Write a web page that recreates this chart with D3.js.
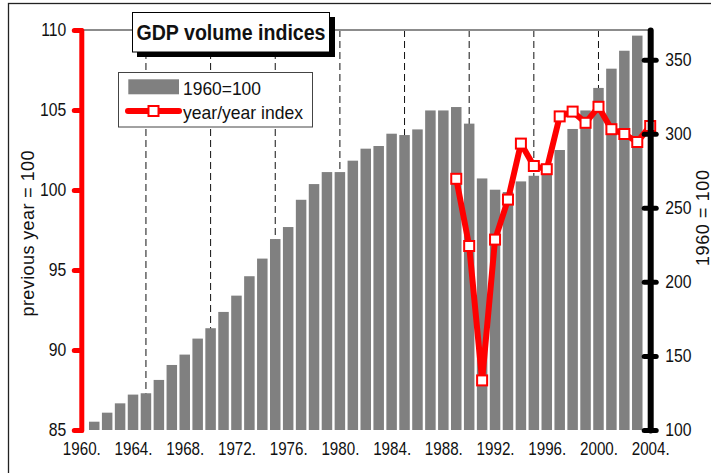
<!DOCTYPE html>
<html>
<head>
<meta charset="utf-8">
<script src="https://cdn.jsdelivr.net/npm/d3@7"></script>
<style>
    body { margin: 0; background: #fff; }
    svg text { font-family: "Liberation Sans", Arial, sans-serif; fill: #111; }
</style>
</head>
<body>
<div id="chart"></div>
<script>
// categories (1960 .. 2004)
var years = [1960, 1961, 1962, 1963, 1964, 1965, 1966, 1967, 1968, 1969,
    1970, 1971, 1972, 1973, 1974, 1975, 1976, 1977, 1978, 1979,
    1980, 1981, 1982, 1983, 1984, 1985, 1986, 1987, 1988, 1989,
    1990, 1991, 1992, 1993, 1994, 1995, 1996, 1997, 1998, 1999,
    2000, 2001, 2002, 2003, 2004];

// GDP volume, 1960 = 100 (bars, 1960 .. 2003)
var gdpIndex = [100, 105.6, 111.7, 118.0, 123.9, 124.8, 133.8, 143.9, 150.9, 161.7,
    168.7, 179.7, 190.7, 203.8, 215.7, 228.9, 237.0, 255.4, 266.0, 274.1,
    274.1, 281.8, 289.9, 291.7, 300.0, 299.1, 302.9, 315.7, 315.7, 318.0,
    306.8, 269.8, 262.2, 260.6, 267.8, 271.6, 275.6, 289.0, 303.2, 315.7,
    330.9, 343.9, 356.0, 366.2];

// year/year index, previous year = 100 (line, 1989 .. 2004)
var yoyYears = [1989, 1990, 1991, 1992, 1993, 1994, 1995, 1996,
    1997, 1998, 1999, 2000, 2001, 2002, 2003, 2004];
var yoyIndex = [100.7, 96.5, 88.1, 96.9, 99.4, 102.9, 101.5, 101.3,
    104.6, 104.9, 104.2, 105.2, 103.8, 103.5, 103.0, 104.0];

// tick labels
var leftTicks = [85, 90, 95, 100, 105, 110];
var rightTicks = [100, 150, 200, 250, 300, 350];
var labelYears = [1960, 1964, 1968, 1972, 1976, 1980, 1984, 1988, 1992, 1996, 2000, 2004];
var gridYears = [1965, 1970, 1975, 1980, 1985, 1990, 1995, 2000];

var W = 711, H = 473;
var plot = {left: 81.3, right: 650.2, top: 30, bottom: 430};

// squeeze text horizontally (no narrow font installed)
function squeeze(sel, ratio) {
    sel.each(function() {
        var w = this.getComputedTextLength();
        d3.select(this)
            .attr("textLength", w * ratio)
            .attr("lengthAdjust", "spacingAndGlyphs");
    });
}

var svg = d3.select("#chart").append("svg")
    .attr("width", W)
    .attr("height", H);

svg.append("rect").attr("width", W).attr("height", H).attr("fill", "#fff");

// outer chart border (runs off the right and bottom edge)
svg.append("rect")
    .attr("x", 8.5).attr("y", 3.5)
    .attr("width", W + 20).attr("height", H + 20)
    .attr("fill", "none")
    .attr("stroke", "#222")
    .attr("stroke-width", 1.3);

var x = d3.scalePoint()
    .domain(years)
    .range([plot.left, plot.right]);

var yLeft = d3.scaleLinear()
    .domain([85, 110])
    .range([plot.bottom, plot.top]);

var yRight = d3.scaleLinear()
    .domain([100, 370])
    .range([plot.bottom, plot.top]);

var barWidth = 10.5;

// dashed vertical gridlines
svg.selectAll("line.grid")
    .data(gridYears)
    .enter()
    .append("line")
    .attr("class", "grid")
    .attr("x1", function(d) { return x(d); })
    .attr("x2", function(d) { return x(d); })
    .attr("y1", plot.top)
    .attr("y2", plot.bottom)
    .attr("stroke", "#111")
    .attr("stroke-width", 1)
    .attr("stroke-dasharray", "7,4");

// top border of the plot area
svg.append("line")
    .attr("x1", plot.left).attr("x2", plot.right)
    .attr("y1", yLeft(110)).attr("y2", yLeft(110))
    .attr("stroke", "#8c8c8c")
    .attr("stroke-width", 1.8);

// bars (right axis)
svg.selectAll("rect.bar")
    .data(gdpIndex)
    .enter()
    .append("rect")
    .attr("class", "bar")
    .attr("x", function(d, i) { return x(years[i]) - barWidth / 2; })
    .attr("y", function(d) { return yRight(d); })
    .attr("width", barWidth)
    .attr("height", function(d) { return plot.bottom - yRight(d); })
    .attr("fill", "#808080");

// year/year line (left axis)
var line = d3.line()
    .x(function(d, i) { return x(yoyYears[i]); })
    .y(function(d) { return yLeft(d); });

svg.append("path")
    .datum(yoyIndex)
    .attr("d", line)
    .attr("fill", "none")
    .attr("stroke", "#ff0000")
    .attr("stroke-width", 6)
    .attr("stroke-linejoin", "round");

var ms = 10;
svg.selectAll("rect.marker")
    .data(yoyIndex)
    .enter()
    .append("rect")
    .attr("class", "marker")
    .attr("x", function(d, i) { return x(yoyYears[i]) - ms / 2; })
    .attr("y", function(d) { return yLeft(d) - ms / 2; })
    .attr("width", ms)
    .attr("height", ms)
    .attr("fill", "#fff")
    .attr("stroke", "#ff0000")
    .attr("stroke-width", 2);

// left axis (red)
var leftAxis = d3.axisLeft(yLeft)
    .tickValues(leftTicks)
    .tickSize(7)
    .tickSizeOuter(0)
    .tickPadding(8);

var gL = svg.append("g")
    .attr("transform", "translate(" + plot.left + ",0)")
    .call(leftAxis);
gL.select(".domain")
    .attr("stroke", "#ff0000")
    .attr("stroke-width", 5)
    .attr("stroke-linecap", "round");
gL.selectAll(".tick line")
    .attr("stroke", "#ff0000")
    .attr("stroke-width", 5)
    .attr("stroke-linecap", "round");
gL.selectAll(".tick text")
    .style("font-size", "18.5px")
    .call(squeeze, 0.85);

// right axis (black)
var rightAxis = d3.axisRight(yRight)
    .tickValues(rightTicks)
    .tickSize(6)
    .tickSizeOuter(0)
    .tickPadding(9);

var gR = svg.append("g")
    .attr("transform", "translate(" + plot.right + ",0)")
    .call(rightAxis);
gR.select(".domain")
    .attr("stroke", "#000")
    .attr("stroke-width", 6)
    .attr("stroke-linecap", "round");
gR.selectAll(".tick line")
    .attr("x1", -6)
    .attr("stroke", "#000")
    .attr("stroke-width", 5)
    .attr("stroke-linecap", "round");
gR.selectAll(".tick text")
    .style("font-size", "18.5px")
    .call(squeeze, 0.85);

// category labels
var xAxis = d3.axisBottom(x)
    .tickValues(labelYears)
    .tickSize(0)
    .tickPadding(12)
    .tickFormat(function(d) { return d + "."; });

var gX = svg.append("g")
    .attr("transform", "translate(0," + plot.bottom + ")")
    .call(xAxis);
gX.select(".domain").remove();
gX.selectAll(".tick text")
    .style("font-size", "18.5px")
    .call(squeeze, 0.82);

// axis titles
svg.append("text")
    .attr("transform", "translate(34,233.5) rotate(-90)")
    .style("text-anchor", "middle")
    .style("font-size", "18px")
    .attr("textLength", 166)
    .attr("lengthAdjust", "spacing")
    .text("previous year = 100");

svg.append("text")
    .attr("transform", "translate(708.5,218) rotate(-90)")
    .style("text-anchor", "middle")
    .style("font-size", "18px")
    .attr("textLength", 96)
    .attr("lengthAdjust", "spacing")
    .text("1960 = 100");

// chart title box with shadow
svg.append("rect")
    .attr("x", 137).attr("y", 17)
    .attr("width", 198).attr("height", 40)
    .attr("fill", "#000");
svg.append("rect")
    .attr("x", 132.5).attr("y", 12.5)
    .attr("width", 197).attr("height", 39.5)
    .attr("fill", "#fff")
    .attr("stroke", "#000")
    .attr("stroke-width", 1);
svg.append("text")
    .attr("x", 231)
    .attr("y", 39.5)
    .style("text-anchor", "middle")
    .style("font-size", "21.5px")
    .style("font-weight", "bold")
    .attr("textLength", 189)
    .attr("lengthAdjust", "spacingAndGlyphs")
    .text("GDP volume indices");

// legend
var legend = svg.append("g");
legend.append("rect")
    .attr("x", 118.5).attr("y", 72.5)
    .attr("width", 194).attr("height", 54.5)
    .attr("fill", "#fff")
    .attr("stroke", "#444")
    .attr("stroke-width", 1);
legend.append("rect")
    .attr("x", 128.3).attr("y", 79.3)
    .attr("width", 50.7).attr("height", 15)
    .attr("fill", "#808080");
legend.append("text")
    .attr("x", 183).attr("y", 95)
    .style("font-size", "18.5px")
    .attr("textLength", 78)
    .attr("lengthAdjust", "spacingAndGlyphs")
    .text("1960=100");
legend.append("line")
    .attr("x1", 128).attr("x2", 179)
    .attr("y1", 111).attr("y2", 111)
    .attr("stroke", "#ff0000")
    .attr("stroke-width", 6)
    .attr("stroke-linecap", "round");
legend.append("rect")
    .attr("x", 153.5 - ms / 2).attr("y", 111 - ms / 2)
    .attr("width", ms).attr("height", ms)
    .attr("fill", "#fff")
    .attr("stroke", "#ff0000")
    .attr("stroke-width", 2);
legend.append("text")
    .attr("x", 183).attr("y", 119)
    .style("font-size", "18.5px")
    .attr("textLength", 120)
    .attr("lengthAdjust", "spacingAndGlyphs")
    .text("year/year index");
</script>
</body>
</html>
